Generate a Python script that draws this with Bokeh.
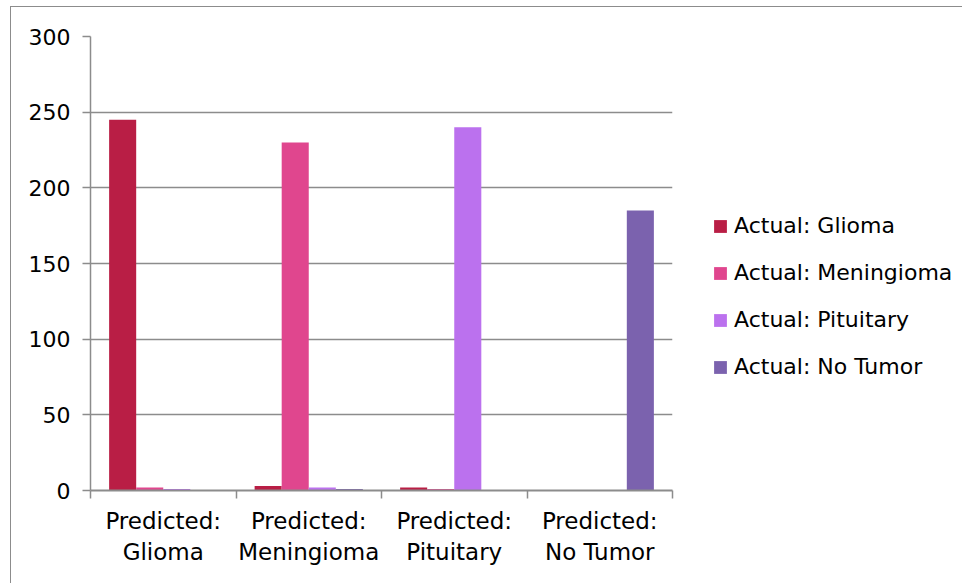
from bokeh.plotting import figure
from bokeh.models import ColumnDataSource, FixedTicker, Legend, LegendItem, Range1d
from bokeh.transform import dodge
from bokeh.embed import file_html
from bokeh.resources import INLINE

categories = ["Predicted:\nGlioma", "Predicted:\nMeningioma", "Predicted:\nPituitary", "Predicted:\nNo Tumor"]
series_names = ["Actual: Glioma", "Actual: Meningioma", "Actual: Pituitary", "Actual: No Tumor"]
actual_glioma = [245, 3, 2, 0]
actual_meningioma = [2, 230, 1, 0]
actual_pituitary = [1, 2, 240, 0]
actual_no_tumor = [0, 1, 0, 185]
y_ticks = [0, 50, 100, 150, 200, 250, 300]

colors = ["#B91E45", "#E0468E", "#BB71EE", "#7B62AE"]
FONT = "DejaVu Sans"
GRID = "#8c8c8c"

xs = [i + 0.5 for i in range(len(categories))]
src = ColumnDataSource(dict(x=xs, g=actual_glioma, m=actual_meningioma,
                            p=actual_pituitary, n=actual_no_tumor))

p = figure(frame_width=582, frame_height=454, output_backend="svg", toolbar_location=None,
           x_range=Range1d(0, 4), y_range=Range1d(0, 300),
           min_border_left=79, min_border_top=29, min_border_right=290, min_border_bottom=107,
           margin=(6, 0, 0, 10), styles={"border": "1px solid #8c8c8c"})
p.outline_line_color = None

bw = 0.186
offsets = [-1.5 * bw, -0.5 * bw, 0.5 * bw, 1.5 * bw]
renderers = []
for key, off, col in zip(["g", "m", "p", "n"], offsets, colors):
    r = p.vbar(x=dodge("x", off, range=p.x_range), top=key, width=bw, bottom=0,
               source=src, fill_color=col, line_color=None)
    renderers.append(r)

# y axis
p.yaxis.ticker = FixedTicker(ticks=y_ticks)
p.yaxis.axis_line_color = GRID
p.yaxis.axis_line_width = 1.5
p.yaxis.major_tick_line_color = GRID
p.yaxis.major_tick_line_width = 1.5
p.yaxis.major_tick_in = 0
p.yaxis.major_tick_out = 8
p.yaxis.minor_tick_line_color = None
p.yaxis.major_label_standoff = 12
p.yaxis.major_label_text_font = FONT
p.yaxis.major_label_text_font_size = "22px"
p.yaxis.major_label_text_color = "#000000"
p.ygrid.grid_line_color = GRID
p.ygrid.grid_line_width = 1.5

# x axis
p.xaxis.ticker = FixedTicker(ticks=xs, minor_ticks=[0, 1, 2, 3, 4])
p.xaxis.major_label_overrides = {x: c for x, c in zip(xs, categories)}
p.xaxis.axis_line_color = GRID
p.xaxis.axis_line_width = 2
p.xaxis.major_tick_line_color = None
p.xaxis.minor_tick_line_color = GRID
p.xaxis.minor_tick_line_width = 1.5
p.xaxis.minor_tick_in = 0
p.xaxis.minor_tick_out = 8
p.xaxis.major_tick_out = 8
p.xaxis.major_label_standoff = 9
p.xaxis.major_label_text_font = FONT
p.xaxis.major_label_text_font_size = "23px"
p.xaxis.major_label_text_color = "#000000"
p.xaxis.major_label_text_line_height = 1.2
p.xgrid.grid_line_color = None

legend = Legend(items=[LegendItem(label=n, renderers=[r]) for n, r in zip(series_names, renderers)],
                location=(40, 111))
legend.glyph_width = 16
legend.glyph_height = 16
legend.label_standoff = 6
legend.label_text_font = FONT
legend.label_text_font_size = "22px"
legend.label_text_color = "#000000"
legend.label_height = 20
legend.spacing = 22
legend.padding = 0
legend.margin = 0
legend.border_line_color = None
legend.background_fill_alpha = 0
p.add_layout(legend, "right")

open("out.html", "w").write(file_html(p, INLINE))
